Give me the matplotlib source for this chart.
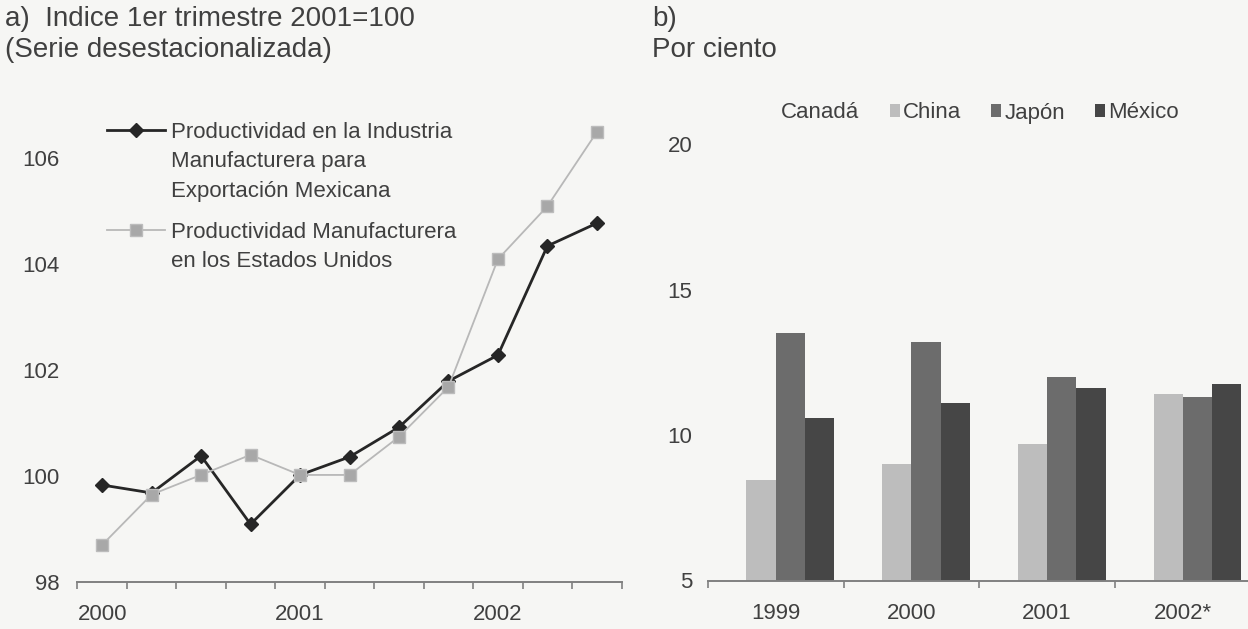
import numpy as np
import matplotlib
matplotlib.use("Agg")
import matplotlib.pyplot as plt
from matplotlib.lines import Line2D
from matplotlib.patches import Patch

plt.rcParams['font.family'] = ['Liberation Sans', 'DejaVu Sans']

# ---- Data: panel a) ----
quarters = ["2000T1", "2000T2", "2000T3", "2000T4", "2001T1", "2001T2",
            "2001T3", "2001T4", "2002T1", "2002T2", "2002T3"]
year_labels = ["2000", "2001", "2002"]
year_label_idx = [0, 4, 8]
mex_export = [99.83, 99.68, 100.38, 99.09, 100.02, 100.36, 100.92, 101.79, 102.28, 104.34, 104.77]
us_manuf = [98.70, 99.65, 100.02, 100.40, 100.02, 100.02, 100.74, 101.68, 104.09, 105.09, 106.49]
label_mex = ["Productividad en la Industria", "Manufacturera para", "Exportación Mexicana"]
label_us = ["Productividad Manufacturera", "en los Estados Unidos"]
yticks_a = [98, 100, 102, 104, 106]

# ---- Data: panel b) ----
years_b = ["1999", "2000", "2001", "2002*"]
countries = ["Canadá", "China", "Japón", "México"]
canada = [np.nan, np.nan, np.nan, np.nan]   # not visible in the original
china = [8.45, 9.0, 9.7, 11.4]
japon = [13.5, 13.2, 12.0, 11.3]
mexico = [10.6, 11.1, 11.6, 11.75]
yticks_b = [5, 10, 15, 20]

BG = '#f6f6f4'
TXT = '#404040'
W, H = 1248, 629
fig = plt.figure(figsize=(W / 100, H / 100), dpi=100, facecolor=BG)

def fx(px):
    return px / W

def fy(py):
    return 1 - py / H

# ---------------- Panel a ----------------
axL = fig.add_axes([fx(77.4), fy(582), fx(621.6) - fx(77.4), fy(105) - fy(582)])
axL.set_facecolor(BG)
x = np.arange(len(quarters))
l_mex, = axL.plot(x, mex_export, color='#262626', lw=2.0, marker='D', ms=7,
                  mfc='#262626', mec='#262626', zorder=3)
l_us, = axL.plot(x, us_manuf, color='#b8b8b8', lw=1.3, marker='s', ms=8.5,
                 mfc='#a8a8a8', mec='#bcbcbc', mew=1.0, zorder=4)
axL.set_xlim(-0.5, len(quarters) - 0.5)
axL.set_ylim(98, 107)
for s in ['top', 'right', 'left']:
    axL.spines[s].set_visible(False)
axL.spines['bottom'].set_color('#808080')
axL.spines['bottom'].set_linewidth(1.4)
axL.set_xticks(np.arange(-0.5, len(quarters), 1.0))
axL.set_xticklabels([])
axL.tick_params(axis='x', which='major', direction='out', length=5, width=1.2, color='#808080')
axL.set_xticks(year_label_idx, minor=True)
axL.set_xticklabels(year_labels, minor=True)
axL.tick_params(axis='x', which='minor', length=0, pad=16, labelsize=16, labelcolor=TXT)
axL.set_yticks(yticks_a)
axL.set_yticklabels([str(v) for v in yticks_a])
axL.tick_params(axis='y', length=0, pad=13, labelsize=16, labelcolor=TXT)

blank = Line2D([], [], color='none')
h_mex = Line2D([], [], color='#262626', lw=2.0, marker='D', ms=7, mfc='#262626', mec='#262626')
h_us = Line2D([], [], color='#b8b8b8', lw=1.3, marker='s', ms=8.5, mfc='#a8a8a8', mec='#bcbcbc')
leg_kw = dict(frameon=False, fontsize=16, handlelength=2.6, handletextpad=0.3,
              borderpad=0, borderaxespad=0, labelspacing=0.38, numpoints=1,
              loc='center left', labelcolor=TXT)
leg1 = fig.legend([h_mex, blank, blank], label_mex,
                  bbox_to_anchor=(fx(107), fy(162)), **leg_kw)
leg2 = fig.legend([h_us, blank], label_us,
                  bbox_to_anchor=(fx(107), fy(247)), **leg_kw)

fig.text(fx(5), fy(19), "a)  Indice 1er trimestre 2001=100", fontsize=20, color=TXT, va='center')
fig.text(fx(5), fy(50), "(Serie desestacionalizada)", fontsize=20, color=TXT, va='center')

# ---------------- Panel b ----------------
axR = fig.add_axes([fx(707.9), fy(580.5), fx(1250.7) - fx(707.9), fy(129.5) - fy(580.5)])
axR.set_facecolor(BG)
xb = np.arange(len(years_b))
bw = 0.216
series = [canada, china, japon, mexico]
colors = [BG, '#bdbdbd', '#6c6c6c', '#464646']
for i, (vals, col, name) in enumerate(zip(series, colors, countries)):
    axR.bar(xb + (i - 1.5) * bw, np.array(vals) - 5, bottom=5, width=bw, color=col,
            edgecolor='none', label=name)
axR.set_xlim(-0.5, len(years_b) - 0.5)
axR.set_ylim(5, 20.5)
for s in ['top', 'right', 'left']:
    axR.spines[s].set_visible(False)
axR.spines['bottom'].set_color('#808080')
axR.spines['bottom'].set_linewidth(1.4)
axR.set_xticks(np.arange(-0.5, len(years_b), 1.0))
axR.set_xticklabels([])
axR.tick_params(axis='x', which='major', direction='out', length=5, width=1.2, color='#808080')
axR.set_xticks(xb, minor=True)
axR.set_xticklabels(years_b, minor=True)
axR.tick_params(axis='x', which='minor', length=0, pad=16, labelsize=16, labelcolor=TXT)
axR.set_yticks(yticks_b)
axR.set_yticklabels([str(v) for v in yticks_b])
axR.tick_params(axis='y', length=0, pad=11, labelsize=16, labelcolor=TXT)

patches = [Patch(facecolor=c, edgecolor='none') for c in colors]
fig.legend(patches, countries, ncol=4, frameon=False, fontsize=16,
           handlelength=0.45, handleheight=0.5, handletextpad=0.15, columnspacing=1.35,
           borderpad=0, borderaxespad=0, loc='center left', labelcolor=TXT,
           bbox_to_anchor=(fx(768), fy(113)))

fig.text(fx(652), fy(19), "b)", fontsize=20, color=TXT, va='center')
fig.text(fx(652), fy(50), "Por ciento", fontsize=20, color=TXT, va='center')

fig.savefig("out.png", dpi=100, facecolor=BG)
